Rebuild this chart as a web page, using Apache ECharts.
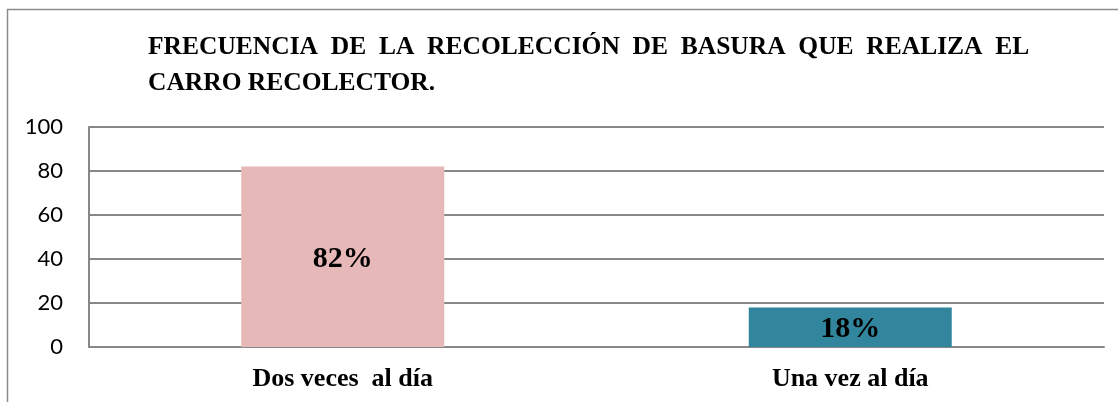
<!DOCTYPE html>
<html>
<head>
<meta charset="utf-8">
<script src="https://cdn.jsdelivr.net/npm/echarts@6/dist/echarts.min.js"></script>
<style>
  html, body { margin: 0; padding: 0; background: #fff; }
  #chart { width: 1118px; height: 402px; }
</style>
</head>
<body>
<div id="chart"></div>
<script>
  // datos del gráfico
  const categories = ['Dos veces  al día', 'Una vez al día']
  const values = [82, 18]
  const barColors = ['#E6B8B7', '#31859C']
  const yTicks = [0, 20, 40, 60, 80, 100]
  const titleText = 'FRECUENCIA  DE  LA  RECOLECCIÓN  DE  BASURA  QUE  REALIZA  EL\nCARRO RECOLECTOR.'

  const myChart = echarts.init(document.getElementById('chart'))
  myChart.setOption({
    animation: false,
    title: {
      text: titleText,
      left: 143,
      top: 24,
      textStyle: {
        fontFamily: 'Liberation Serif',
        fontWeight: 'bold',
        fontSize: 25.5,
        lineHeight: 36,
        color: '#000'
      }
    },
    graphic: [
      { type: 'line', shape: { x1: 7.5, y1: 9, x2: 7.5, y2: 402 }, style: { stroke: '#8c8c8c', lineWidth: 1.5 } },
      { type: 'line', shape: { x1: 7, y1: 9.5, x2: 1118, y2: 9.5 }, style: { stroke: '#8c8c8c', lineWidth: 1.5 } }
    ],
    grid: { left: 89, right: 14, top: 127, bottom: 55 },
    xAxis: {
      type: 'category',
      data: categories,
      axisLine: { show: true, lineStyle: { color: '#888', width: 2 } },
      axisTick: { show: false },
      axisLabel: {
        margin: 19,
        fontFamily: 'Liberation Serif',
        fontWeight: 'bold',
        fontSize: 26,
        color: '#000'
      }
    },
    yAxis: {
      type: 'value',
      min: yTicks[0],
      max: yTicks[yTicks.length - 1],
      interval: 20,
      axisLine: { show: true, lineStyle: { color: '#888', width: 2 } },
      axisTick: { show: false },
      splitLine: { lineStyle: { color: '#888', width: 2 } },
      axisLabel: {
        margin: 26,
        fontFamily: 'Lato',
        fontSize: 22,
        color: '#000'
      }
    },
    series: [{
      type: 'bar',
      barWidth: '40%',
      data: values.map((v, i) => ({ value: v, itemStyle: { color: barColors[i] } })),
      label: {
        show: true,
        position: 'inside',
        offset: [0, 2],
        formatter: '{c}%',
        fontFamily: 'Liberation Serif',
        fontWeight: 'bold',
        fontSize: 30,
        color: '#000'
      }
    }]
  })
</script>
</body>
</html>
